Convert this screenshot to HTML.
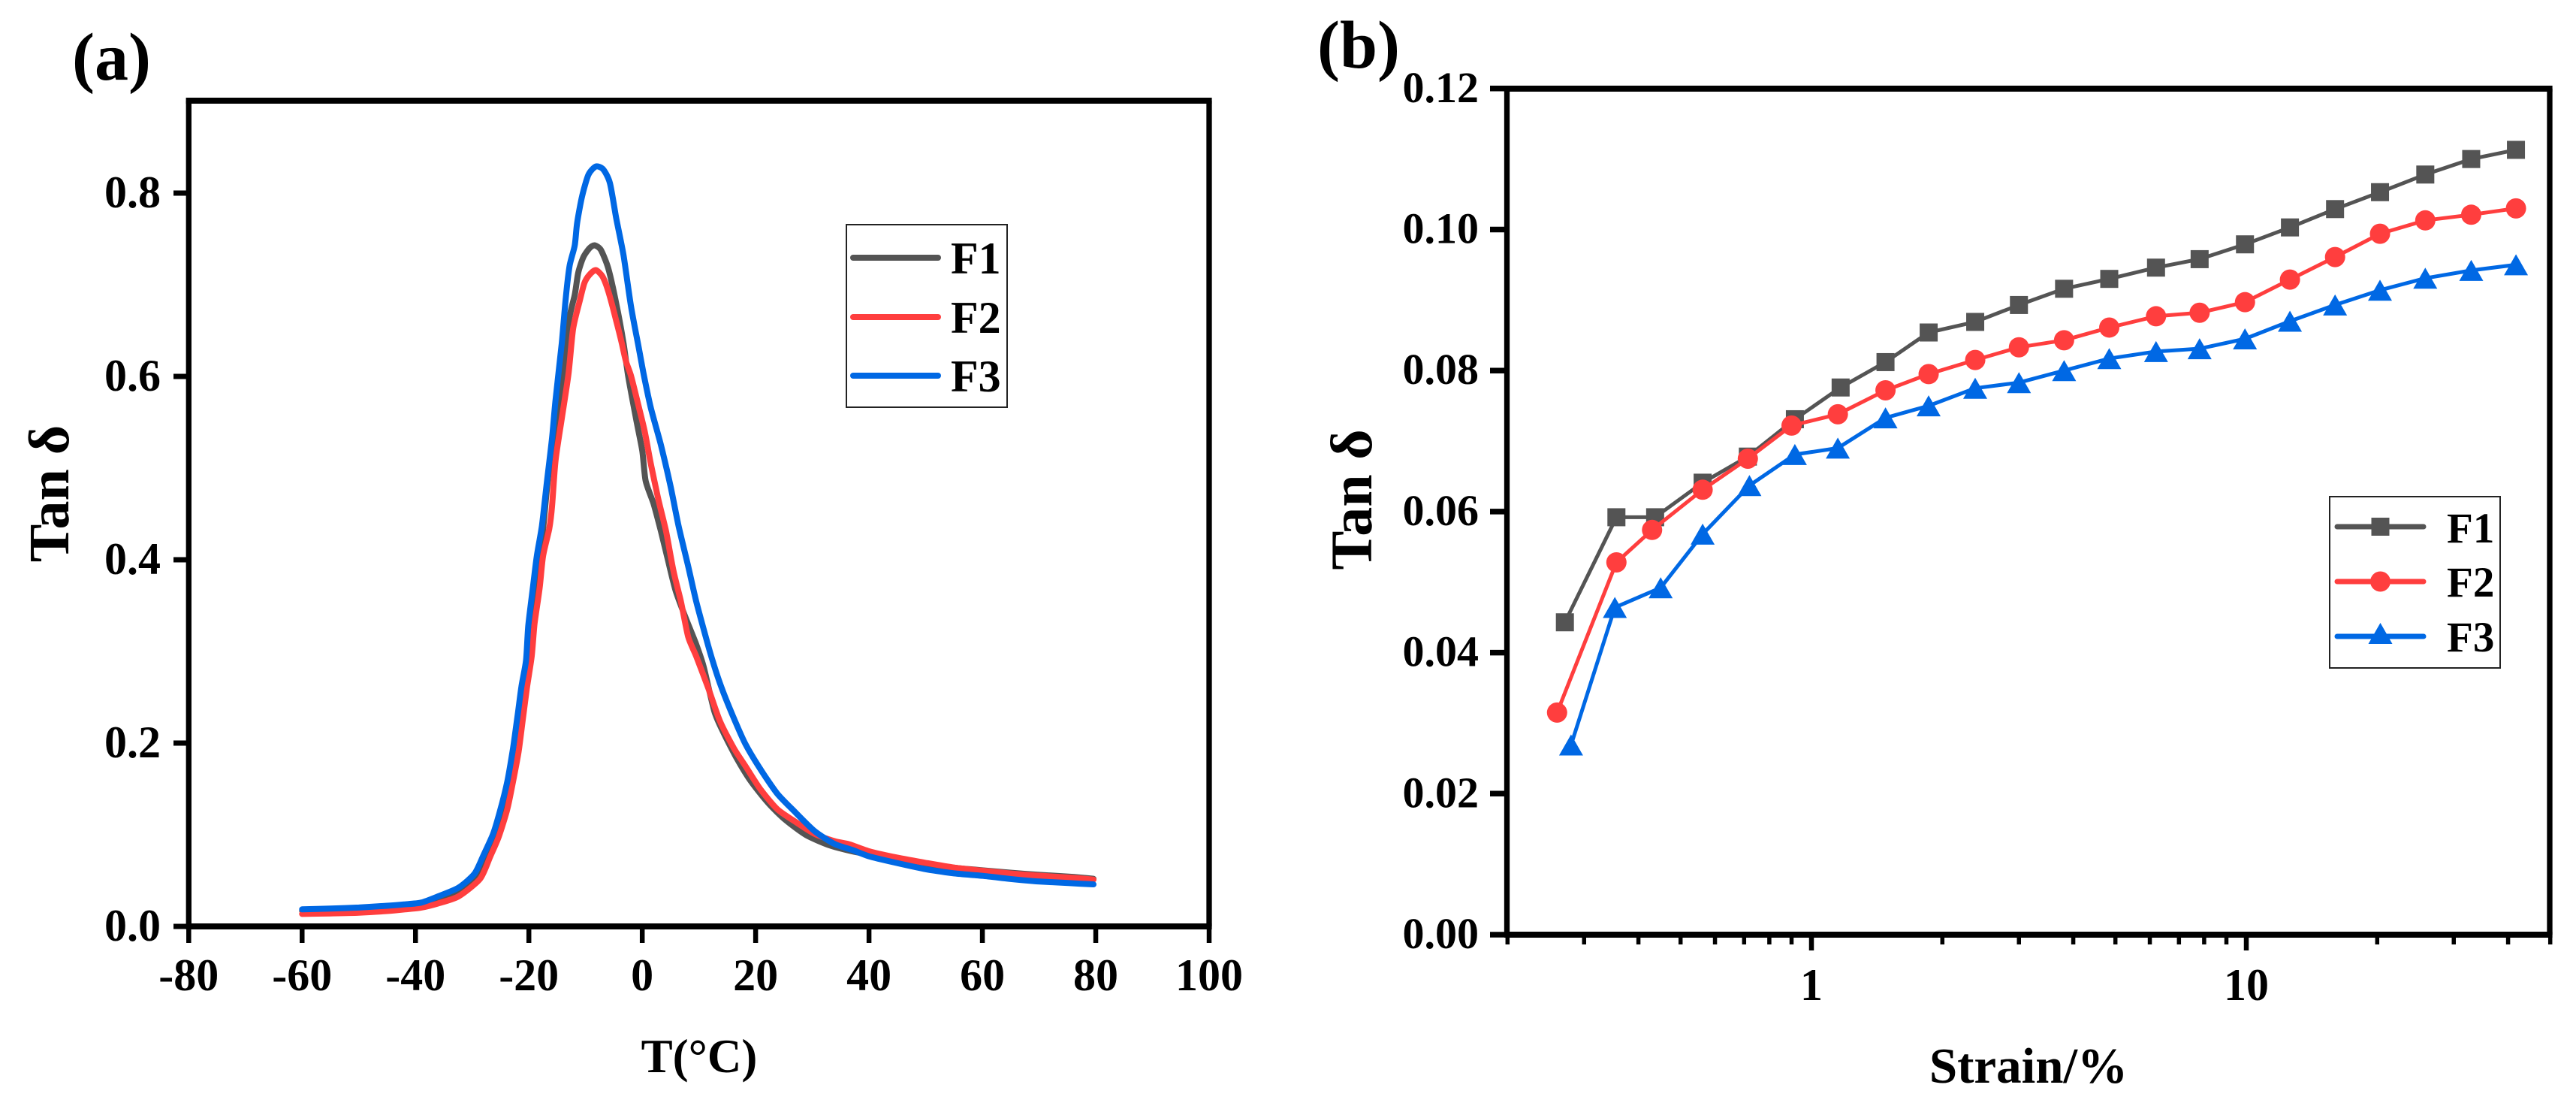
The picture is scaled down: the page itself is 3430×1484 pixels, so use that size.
<!DOCTYPE html>
<html lang="en">
<head>
<meta charset="utf-8">
<title>Tan delta charts</title>
<style>
html,body{margin:0;padding:0;background:#fff;}
svg{display:block;}
text{font-family:"Liberation Serif","DejaVu Serif",serif;font-weight:bold;fill:#000;}
</style>
</head>
<body>
<svg id="fig" xmlns="http://www.w3.org/2000/svg" width="3430" height="1484" viewBox="0 0 3430 1484">
  <rect x="0" y="0" width="3430" height="1484" fill="#fff"/>
  <text x="96" y="106" font-size="90">(a)</text>
  <text x="1754" y="90" font-size="90">(b)</text>
  <g id="panelA"></g>
  <g id="panelB"></g>
  <text font-size="76" text-anchor="middle" transform="translate(91,657) rotate(-90)">Tan δ</text>
  <text x="931" y="1427" font-size="63" text-anchor="middle">T(°C)</text>
  <text font-size="78" text-anchor="middle" transform="translate(1826,665) rotate(-90)">Tan δ</text>
  <text x="2701" y="1441" font-size="67" text-anchor="middle">Strain/%</text>

  <g>
    <rect x="1127" y="299" width="214" height="243" fill="#fff" stroke="#222" stroke-width="2"/>
    <line x1="1136" x2="1249" y1="343" y2="343" stroke="#545454" stroke-width="8" stroke-linecap="round"/>
    <line x1="1136" x2="1249" y1="422" y2="422" stroke="#ff3e3e" stroke-width="8" stroke-linecap="round"/>
    <line x1="1136" x2="1249" y1="500" y2="500" stroke="#0068e4" stroke-width="8" stroke-linecap="round"/>
    <text x="1266" y="364" font-size="60">F1</text>
    <text x="1266" y="443" font-size="60">F2</text>
    <text x="1266" y="521" font-size="60">F3</text>
  </g>

  <g>
    <rect x="3102" y="661" width="227" height="228" fill="#fff" stroke="#222" stroke-width="2"/>
    <line x1="3112" x2="3227" y1="701" y2="701" stroke="#545454" stroke-width="7" stroke-linecap="round"/>
    <rect x="3157.5" y="689" width="24" height="24" fill="#545454"/>
    <line x1="3112" x2="3227" y1="774" y2="774" stroke="#ff3e3e" stroke-width="7" stroke-linecap="round"/>
    <circle cx="3169.5" cy="774" r="13.5" fill="#ff3e3e"/>
    <line x1="3112" x2="3227" y1="847" y2="847" stroke="#0068e4" stroke-width="7" stroke-linecap="round"/>
    <polygon points="3169.5,829 3185.5,857 3153.5,857" fill="#0068e4"/>
    <text x="3258" y="722" font-size="57">F1</text>
    <text x="3258" y="794" font-size="57">F2</text>
    <text x="3258" y="867" font-size="57">F3</text>
  </g>
</svg>
<script>
/* ---------- Panel (a) data ---------- */
const aXTicks = [-80,-60,-40,-20,0,20,40,60,80,100];
const aYTicks = [0,0.2,0.4,0.6,0.8];
const aF1T = [-60,-55,-50,-45,-42,-39,-36,-32.4,-28.6,-26.8,-25.3,-23.8,-22.8,-21.8,-21,-20.3,-19.5,-18.6,-17.7,-16.6,-15.5,-14.6,-13,-11.9,-11.3,-10.4,-9.3,-8.4,-7.3,-6,-4.6,-3.3,-2.5,-1.1,0,0.6,2,3.3,4.6,5.9,7.7,9.5,10.8,12.7,14.2,16.7,19.2,22.3,25.3,28.9,32.9,37,40.4,44.2,49.7,55,60,64.7,69.5,75.2,79.6];
const aF1V = [0.017,0.0175,0.0185,0.02,0.022,0.024,0.028,0.037,0.058,0.082,0.105,0.135,0.165,0.2,0.238,0.272,0.31,0.37,0.42,0.49,0.53,0.562,0.658,0.689,0.713,0.73,0.74,0.743,0.738,0.718,0.68,0.636,0.601,0.554,0.519,0.486,0.461,0.431,0.398,0.366,0.336,0.308,0.284,0.235,0.213,0.183,0.158,0.134,0.116,0.0997,0.0888,0.082,0.078,0.0745,0.069,0.064,0.0612,0.0587,0.0565,0.0543,0.052];
const aF2T = [-60,-55,-50,-45,-42,-39,-36,-32.4,-28.6,-26.8,-25.3,-23.8,-22.8,-21.8,-21,-20.3,-19.5,-19,-18.1,-17.5,-16.4,-15.9,-15.3,-14.2,-13,-12.2,-11,-10.2,-9.3,-8.2,-7,-6,-4.6,-3.6,-2.9,-2,-0.9,0.4,1.5,2.8,4.2,5.5,6.8,8.1,9.5,11.7,13.7,16.2,18.2,20.8,23.8,26.8,30.4,33.9,36.5,40,44.2,49.7,55,60,64.7,69.5,75.2,79.6];
const aF2V = [0.0136,0.0142,0.015,0.0168,0.0185,0.0205,0.0251,0.0328,0.052,0.0765,0.098,0.128,0.158,0.191,0.2295,0.262,0.295,0.33,0.369,0.404,0.434,0.459,0.508,0.554,0.603,0.652,0.683,0.702,0.711,0.716,0.709,0.693,0.661,0.636,0.617,0.601,0.574,0.541,0.505,0.467,0.431,0.388,0.355,0.316,0.295,0.259,0.224,0.194,0.175,0.15,0.128,0.115,0.101,0.093,0.0896,0.082,0.076,0.0697,0.0642,0.0607,0.0579,0.0555,0.0533,0.0511];
const aF3T = [-60,-55,-50,-45,-42,-39,-36,-32.4,-29.6,-28.1,-26.3,-25.1,-23.8,-22.8,-22,-21.3,-20.5,-20.1,-19.2,-18.6,-17.7,-16.8,-15.9,-15.3,-14.2,-13.5,-12.8,-11.9,-11.5,-10.6,-9.5,-8.2,-6.9,-5.7,-4.6,-3.3,-2,-0.7,0.3,1.5,3.3,5,6.4,8.1,9.5,11.2,12.4,13.9,16,18.2,20.8,23.8,26.8,30.4,33.9,37,40,44.2,49.7,55,60,64.7,69.5,75.2,79.6];
const aF3V = [0.0186,0.0195,0.0206,0.0225,0.024,0.026,0.0328,0.0423,0.0574,0.0765,0.101,0.1257,0.158,0.194,0.2295,0.262,0.29,0.328,0.374,0.404,0.437,0.486,0.533,0.574,0.636,0.685,0.721,0.743,0.767,0.797,0.82,0.829,0.826,0.811,0.773,0.732,0.677,0.634,0.601,0.566,0.525,0.48,0.437,0.393,0.355,0.316,0.29,0.262,0.2295,0.199,0.172,0.145,0.1257,0.104,0.09,0.0835,0.0765,0.0702,0.0628,0.0579,0.0552,0.0519,0.0492,0.0473,0.0459];

/* ---------- Panel (b) data ---------- */
const bXTicksMajor = [1,10];
const bXTicksMinor = [0.2,0.3,0.4,0.5,0.6,0.7,0.8,0.9,2,3,4,5,6,7,8,9,20,30,40,50];
const bYTicks = ["0.00","0.02","0.04","0.06","0.08","0.10","0.12"];
const bF1X = [0.271,0.356,0.437,0.562,0.714,0.916,1.167,1.48,1.86,2.38,3.0,3.81,4.84,6.2,7.81,9.93,12.6,16,20.3,25.8,32.9,41.7];
const bF2X = [0.26,0.356,0.43,0.562,0.714,0.90,1.15,1.48,1.86,2.38,3.0,3.81,4.84,6.2,7.81,9.93,12.6,16,20.3,25.8,32.9,41.7];
const bF3X = [0.28,0.353,0.45,0.562,0.72,0.916,1.15,1.48,1.86,2.38,3.0,3.81,4.84,6.2,7.81,9.93,12.6,16,20.3,25.8,32.9,41.7];
const bF1V = [0.0443,0.0592,0.0592,0.0641,0.0678,0.0731,0.0776,0.0812,0.0854,0.0869,0.0893,0.0916,0.093,0.0946,0.0958,0.0979,0.1003,0.1029,0.1053,0.1078,0.11,0.1113];
const bF2V = [0.0315,0.0528,0.0574,0.0631,0.0675,0.0722,0.0738,0.0772,0.0795,0.0815,0.0833,0.0843,0.0861,0.0877,0.0882,0.0897,0.0929,0.0961,0.0994,0.1013,0.1021,0.103];
const bF3V = [0.0269,0.0464,0.0492,0.0568,0.0637,0.0681,0.069,0.0733,0.075,0.0775,0.0783,0.08,0.0817,0.0827,0.0831,0.0845,0.087,0.0893,0.0914,0.0931,0.0942,0.095];

const NS = 'http://www.w3.org/2000/svg';
const GREY = '#545454', RED = '#ff3e3e', BLUE = '#0068e4';

function mk(parent, tag, props) {
  const el = document.createElementNS(NS, tag);
  for (const k in props) el.setAttribute(k, props[k]);
  parent.appendChild(el);
  return el;
}

/* axis functions */
const ax = t => 251.3 + (t + 80) * (1610 - 251.3) / 180;
const ay = v => 1233 - v * 1220;
const bx = s => 2412 + Math.log10(s) * 579;
const by = v => 1244 - v * 9385;

/* smooth path through points (Catmull-Rom, reduced tension) */
function smoothPath(xs, ys) {
  const k = 0.12;
  let d = 'M' + xs[0].toFixed(1) + ' ' + ys[0].toFixed(1);
  for (let i = 0; i < xs.length - 1; i++) {
    const a = Math.max(i - 1, 0), b = Math.min(i + 2, xs.length - 1);
    const c1x = xs[i] + (xs[i + 1] - xs[a]) * k, c1y = ys[i] + (ys[i + 1] - ys[a]) * k;
    const c2x = xs[i + 1] - (xs[b] - xs[i]) * k, c2y = ys[i + 1] - (ys[b] - ys[i]) * k;
    d += ' C' + c1x.toFixed(1) + ' ' + c1y.toFixed(1) + ' ' + c2x.toFixed(1) + ' ' + c2y.toFixed(1) + ' ' + xs[i + 1].toFixed(1) + ' ' + ys[i + 1].toFixed(1);
  }
  return d;
}

/* ---------- Panel (a) ---------- */
const gA = document.getElementById('panelA');

function drawASeries(ts, vs, color, name) {
  const d = smoothPath(ts.map(ax), vs.map(ay));
  const p = mk(gA, 'path', {d: d, fill: 'none', stroke: color, 'stroke-width': 8, 'stroke-linejoin': 'round', 'stroke-linecap': 'round'});
  
  
}
drawASeries(aF1T, aF1V, GREY, 'panel-a-series-f1');
drawASeries(aF2T, aF2V, RED, 'panel-a-series-f2');
drawASeries(aF3T, aF3V, BLUE, 'panel-a-series-f3');

const aFrame = mk(gA, 'path', {d: 'M251.3 134 V1233 M1610 134 V1233', stroke: '#000', 'stroke-width': 7.3, fill: 'none'});


const aFrame2 = mk(gA, 'path', {d: 'M247.6 134 H1613.6 M247.6 1233 H1613.6', stroke: '#000', 'stroke-width': 8, fill: 'none'});



aXTicks.forEach(t => {
  const x = ax(t);
  const tick = mk(gA, 'line', {x1: x, x2: x, y1: 1233, y2: 1255, stroke: '#000', 'stroke-width': 6.5});
  
  
  const lab = mk(gA, 'text', {x: x, y: 1318, 'font-size': 60, 'text-anchor': 'middle'});
  
  
  lab.textContent = String(t);
});
aYTicks.forEach(v => {
  const y = ay(v);
  const tick = mk(gA, 'line', {x1: 231, x2: 251, y1: y, y2: y, stroke: '#000', 'stroke-width': 7});
  
  
  const lab = mk(gA, 'text', {x: 214, y: y + 19, 'font-size': 60, 'text-anchor': 'end'});
  
  
  lab.textContent = v.toFixed(1);
});

/* ---------- Panel (b) ---------- */
const gB = document.getElementById('panelB');

function drawBLine(xs, vs, color, name) {
  const d = xs.map((s, i) => (i ? 'L' : 'M') + bx(s).toFixed(1) + ' ' + by(vs[i]).toFixed(1)).join(' ');
  const p = mk(gB, 'path', {d: d, fill: 'none', stroke: color, 'stroke-width': 5, 'stroke-linejoin': 'round'});
  
  
}
drawBLine(bF1X, bF1V, GREY, 'panel-b-line-f1');
bF1X.forEach((s, i) => {
  const m = mk(gB, 'rect', {x: bx(s) - 12, y: by(bF1V[i]) - 12, width: 24, height: 24, fill: GREY});
  
  
});
drawBLine(bF2X, bF2V, RED, 'panel-b-line-f2');
bF2X.forEach((s, i) => {
  const m = mk(gB, 'circle', {cx: bx(s), cy: by(bF2V[i]), r: 13.5, fill: RED});
  
  
});
drawBLine(bF3X, bF3V, BLUE, 'panel-b-line-f3');
bF3X.forEach((s, i) => {
  const cx = bx(s), cy = by(bF3V[i]);
  const pts = [cx, cy - 14, cx + 16, cy + 14, cx - 16, cy + 14].map(n => n.toFixed(1));
  const m = mk(gB, 'polygon', {points: pts[0] + ',' + pts[1] + ' ' + pts[2] + ',' + pts[3] + ' ' + pts[4] + ',' + pts[5], fill: BLUE});
  
  
});

const bFrame = mk(gB, 'path', {d: 'M2006.5 118 V1244 M3395 118 V1244', stroke: '#000', 'stroke-width': 7.3, fill: 'none'});


const bFrame2 = mk(gB, 'path', {d: 'M2003 118 H3398.6 M2003 1244 H3398.6', stroke: '#000', 'stroke-width': 8, fill: 'none'});



bXTicksMajor.forEach(s => {
  const x = bx(s);
  const tick = mk(gB, 'line', {x1: x, x2: x, y1: 1244, y2: 1265, stroke: '#000', 'stroke-width': 6.5});
  
  
  const lab = mk(gB, 'text', {x: x, y: 1331, 'font-size': 60, 'text-anchor': 'middle'});
  
  
  lab.textContent = String(s);
});
bXTicksMinor.forEach(s => {
  const x = bx(s);
  const tick = mk(gB, 'line', {x1: x, x2: x, y1: 1244, y2: 1257, stroke: '#000', 'stroke-width': 5.5});
  
  
});
bYTicks.forEach(t => {
  const y = by(parseFloat(t));
  const tick = mk(gB, 'line', {x1: 1984, x2: 2006, y1: y, y2: y, stroke: '#000', 'stroke-width': 7.5});
  
  
  const lab = mk(gB, 'text', {x: 1969, y: y + 18, 'font-size': 58, 'text-anchor': 'end'});
  
  
  lab.textContent = t;
});
</script>
</body>
</html>
